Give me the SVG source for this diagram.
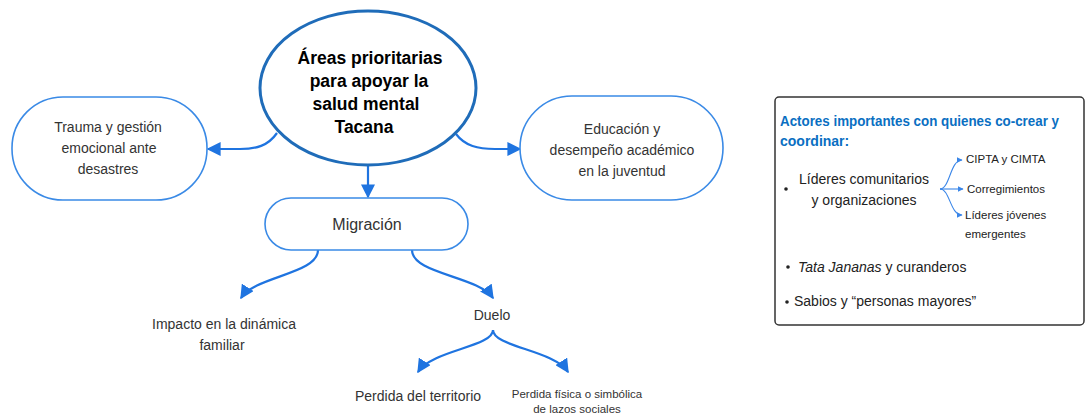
<svg xmlns="http://www.w3.org/2000/svg" width="1086" height="418" viewBox="0 0 1086 418">
<defs>
<marker id="ah" markerUnits="userSpaceOnUse" markerWidth="14" markerHeight="14" viewBox="0 0 10 10" refX="9" refY="5" orient="auto">
<path d="M0,0 L10,5 L0,10 z" fill="#1f74e0"/>
</marker>
<marker id="ahs" markerUnits="userSpaceOnUse" markerWidth="6" markerHeight="6" viewBox="0 0 10 10" refX="9" refY="5" orient="auto">
<path d="M0,0 L10,5 L0,10 z" fill="#3a86e8"/>
</marker>
<style>
.node{fill:#fff;stroke:#3a8ae6;stroke-width:1.6}
.main{fill:#fff;stroke:#1f6cb9;stroke-width:3}
.t{font-family:"Liberation Sans",Arial,sans-serif;fill:#333;text-anchor:middle}
.tl{font-family:"Liberation Sans",Arial,sans-serif;fill:#222}
.c{fill:none;stroke:#1f74e0;stroke-width:2.2;marker-end:url(#ah)}
.cs{fill:none;stroke:#3a86e8;stroke-width:1.1;marker-end:url(#ahs)}
</style>
</defs>
<rect width="1086" height="418" fill="#fff"/>
<g id="connectors">
<path class="c" d="M277,133 C268,146 256,149 240,149 L208,149"/>
<path class="c" d="M456,134 C465,146 478,149 495,149 L520,149"/>
<path class="c" d="M368,165 L368,197"/>
<path class="c" d="M318,250 C318,274 255,276 241,298"/>
<path class="c" d="M412,250 C412,274 478,276 493,298"/>
<path class="c" d="M493,330 C493,347 432,350 418,372"/>
<path class="c" d="M493,330 C493,347 554,350 568,372"/>
</g>
<g id="node-main">
<ellipse class="main" cx="368" cy="88" rx="108" ry="77"/>
<text class="t" x="368" font-size="17.5" font-weight="bold" style="fill:#000"><tspan x="370" y="64">Áreas prioritarias</tspan><tspan x="369" y="87">para apoyar la</tspan><tspan x="366" y="110">salud mental</tspan><tspan x="364" y="133">Tacana</tspan></text>
</g>
<g id="node-trauma">
<rect class="node" x="12" y="97" width="195" height="103" rx="51" ry="51"/>
<text class="t" font-size="14"><tspan x="108" y="132">Trauma y gestión</tspan><tspan x="109" y="153">emocional ante</tspan><tspan x="108" y="174">desastres</tspan></text>
</g>
<g id="node-educacion">
<rect class="node" x="520" y="96" width="203" height="104" rx="52" ry="52"/>
<text class="t" font-size="14"><tspan x="622" y="134">Educación y</tspan><tspan x="622" y="155">desempeño académico</tspan><tspan x="622" y="176">en la juventud</tspan></text>
</g>
<g id="node-migracion">
<rect class="node" x="265" y="198" width="203" height="52" rx="26" ry="26"/>
<text class="t" x="367" y="230" font-size="16">Migración</text>
</g>
<g id="node-impacto">
<text class="t" font-size="14"><tspan x="224" y="329">Impacto en la dinámica</tspan><tspan x="222" y="350">familiar</tspan></text>
</g>
<g id="node-duelo">
<text class="t" x="492" y="320" font-size="14">Duelo</text>
</g>
<g id="node-territorio">
<text class="t" x="418" y="401" font-size="14">Perdida del territorio</text>
</g>
<g id="node-lazos">
<text class="t" font-size="11.5"><tspan x="577" y="398">Perdida física o simbólica</tspan><tspan x="577" y="413">de lazos sociales</tspan></text>
</g>
<g id="panel-actores">
<rect x="775" y="97" width="309" height="228" rx="4" ry="4" fill="#fff" stroke="#333" stroke-width="1.5"/>
<text class="tl" font-size="14" font-weight="bold" style="fill:#0a6fc2"><tspan x="780" y="126" textLength="279" lengthAdjust="spacingAndGlyphs">Actores importantes con quienes co-crear y</tspan><tspan x="780" y="146">coordinar:</tspan></text>
<circle cx="786" cy="189" r="1.8" fill="#222"/>
<text class="t" font-size="14" style="fill:#222"><tspan x="864" y="184">Líderes comunitarios</tspan><tspan x="864" y="205">y organizaciones</tspan></text>
<path class="cs" d="M940,189 C950,189 950,160 962,160"/>
<path class="cs" d="M940,189 L963,189"/>
<path class="cs" d="M940,189 C950,189 950,215 962,215"/>
<text class="tl" font-size="11.5"><tspan x="966" y="163">CIPTA y CIMTA</tspan><tspan x="967" y="193">Corregimientos</tspan><tspan x="965" y="219">Líderes jóvenes</tspan><tspan x="965" y="238">emergentes</tspan></text>
<circle cx="788" cy="267" r="1.8" fill="#222"/>
<text class="tl" x="798" y="272" font-size="14"><tspan font-style="italic">Tata Jananas</tspan> y curanderos</text>
<circle cx="787" cy="302" r="1.8" fill="#222"/>
<text class="tl" x="794" y="306" font-size="14">Sabios y “personas mayores”</text>
</g>
</svg>
